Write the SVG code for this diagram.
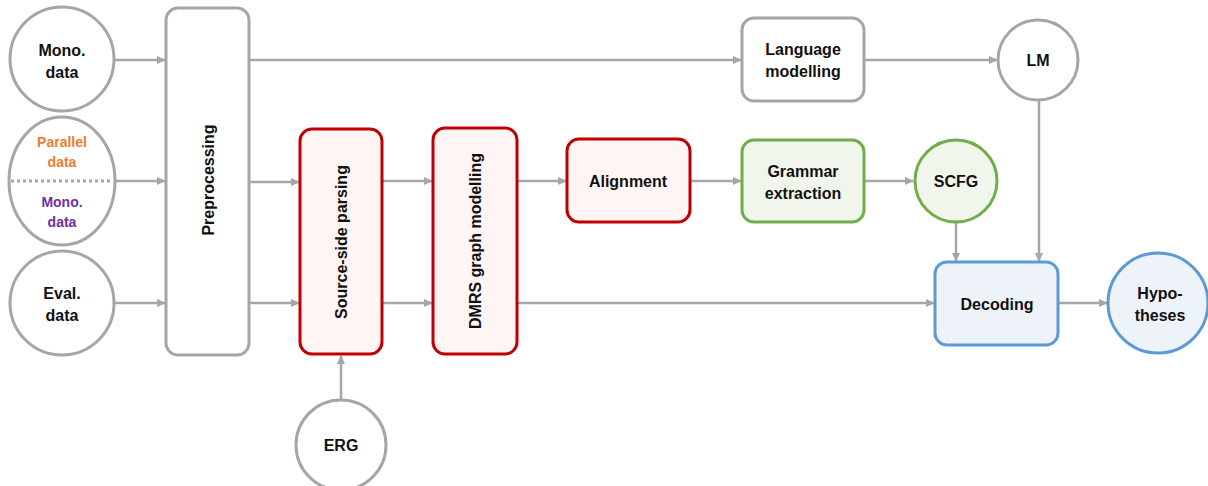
<svg xmlns="http://www.w3.org/2000/svg" width="1208" height="486" viewBox="0 0 1208 486">
<defs>
<marker id="ah" markerWidth="10" markerHeight="10" refX="8" refY="5" orient="auto" markerUnits="userSpaceOnUse">
<path d="M0,1 L9,5 L0,9 Z" fill="#A6A6A6"/>
</marker>
<style>
.g{fill:#FFFFFF;stroke:#A6A6A6;stroke-width:3}
.r{fill:#FFF5F5;stroke:#C00000;stroke-width:3}
.gr{fill:#F1F6EC;stroke:#70AD47;stroke-width:3}
.b{fill:#EEF3FA;stroke:#5B9BD5;stroke-width:3}
.c{fill:none;stroke:#A6A6A6;stroke-width:2.5}
.t{font-family:"Liberation Sans",Arial,sans-serif;font-weight:bold;font-size:16px;fill:#111;text-anchor:middle}
.s{font-size:14px}
</style>
</defs>
<rect width="1208" height="486" fill="#FFFFFF"/>
<g id="connectors">
<line class="c" x1="115" y1="60" x2="165" y2="60" marker-end="url(#ah)"/>
<line class="c" x1="115" y1="181" x2="165" y2="181" marker-end="url(#ah)"/>
<line class="c" x1="115" y1="303" x2="165" y2="303" marker-end="url(#ah)"/>
<line class="c" x1="249" y1="60" x2="741" y2="60" marker-end="url(#ah)"/>
<line class="c" x1="249" y1="182" x2="299" y2="182" marker-end="url(#ah)"/>
<line class="c" x1="249" y1="303" x2="299" y2="303" marker-end="url(#ah)"/>
<line class="c" x1="382" y1="181" x2="432" y2="181" marker-end="url(#ah)"/>
<line class="c" x1="382" y1="303" x2="432" y2="303" marker-end="url(#ah)"/>
<line class="c" x1="517" y1="181" x2="566" y2="181" marker-end="url(#ah)"/>
<line class="c" x1="517" y1="303" x2="934" y2="303" marker-end="url(#ah)"/>
<line class="c" x1="690" y1="181" x2="741" y2="181" marker-end="url(#ah)"/>
<line class="c" x1="864" y1="181" x2="913" y2="181" marker-end="url(#ah)"/>
<line class="c" x1="864" y1="60" x2="997" y2="60" marker-end="url(#ah)"/>
<line class="c" x1="1039" y1="100" x2="1039" y2="261" marker-end="url(#ah)"/>
<line class="c" x1="956" y1="222" x2="956" y2="261" marker-end="url(#ah)"/>
<line class="c" x1="1058" y1="303" x2="1107" y2="303" marker-end="url(#ah)"/>
<line class="c" x1="341" y1="400" x2="341" y2="356" marker-end="url(#ah)"/>
</g>
<g id="mono1">
<circle class="g" cx="62" cy="59" r="52"/>
<text class="t" x="62" y="56">Mono.</text>
<text class="t" x="62" y="78">data</text>
</g>
<g id="parallel">
<ellipse class="g" cx="62" cy="181" rx="53" ry="64"/>
<line x1="11" y1="181" x2="113" y2="181" stroke="#A6A6A6" stroke-width="3" stroke-dasharray="3,3"/>
<text class="t s" x="62" y="147" fill="#ED7D31" style="fill:#ED7D31">Parallel</text>
<text class="t s" x="62" y="167" style="fill:#ED7D31">data</text>
<text class="t s" x="62" y="207" style="fill:#7030A0">Mono.</text>
<text class="t s" x="62" y="227" style="fill:#7030A0">data</text>
</g>
<g id="eval">
<circle class="g" cx="62" cy="303" r="52"/>
<text class="t" x="62" y="299">Eval.</text>
<text class="t" x="62" y="321">data</text>
</g>
<g id="preprocessing">
<rect class="g" x="166" y="8" width="83" height="347" rx="12"/>
<text class="t" transform="translate(214,180) rotate(-90)" x="0" y="0">Preprocessing</text>
</g>
<g id="source">
<rect class="r" x="300" y="129" width="82" height="225" rx="12"/>
<text class="t" transform="translate(347,242) rotate(-90)" x="0" y="0">Source-side parsing</text>
</g>
<g id="dmrs">
<rect class="r" x="433" y="128" width="84" height="226" rx="12"/>
<text class="t" transform="translate(481,241) rotate(-90)" x="0" y="0">DMRS graph modelling</text>
</g>
<g id="alignment">
<rect class="r" x="567" y="139" width="123" height="83" rx="12"/>
<text class="t" x="628" y="187">Alignment</text>
</g>
<g id="langmod">
<rect class="g" x="742" y="18" width="122" height="83" rx="12"/>
<text class="t" x="803" y="55">Language</text>
<text class="t" x="803" y="77">modelling</text>
</g>
<g id="lm">
<circle class="g" cx="1038" cy="60" r="40"/>
<text class="t" x="1038" y="66">LM</text>
</g>
<g id="grammar">
<rect class="gr" x="742" y="140" width="122" height="82" rx="12"/>
<text class="t" x="803" y="177">Grammar</text>
<text class="t" x="803" y="199">extraction</text>
</g>
<g id="scfg">
<circle class="gr" cx="956" cy="181" r="41"/>
<text class="t" x="956" y="187">SCFG</text>
</g>
<g id="decoding">
<rect class="b" x="935" y="262" width="123" height="83" rx="12"/>
<text class="t" x="997" y="310">Decoding</text>
</g>
<g id="hypotheses">
<circle class="b" cx="1158" cy="303" r="50"/>
<text class="t" x="1160" y="299">Hypo-</text>
<text class="t" x="1160" y="321">theses</text>
</g>
<g id="erg">
<circle class="g" cx="341" cy="445" r="45"/>
<text class="t" x="341" y="451">ERG</text>
</g>
</svg>
